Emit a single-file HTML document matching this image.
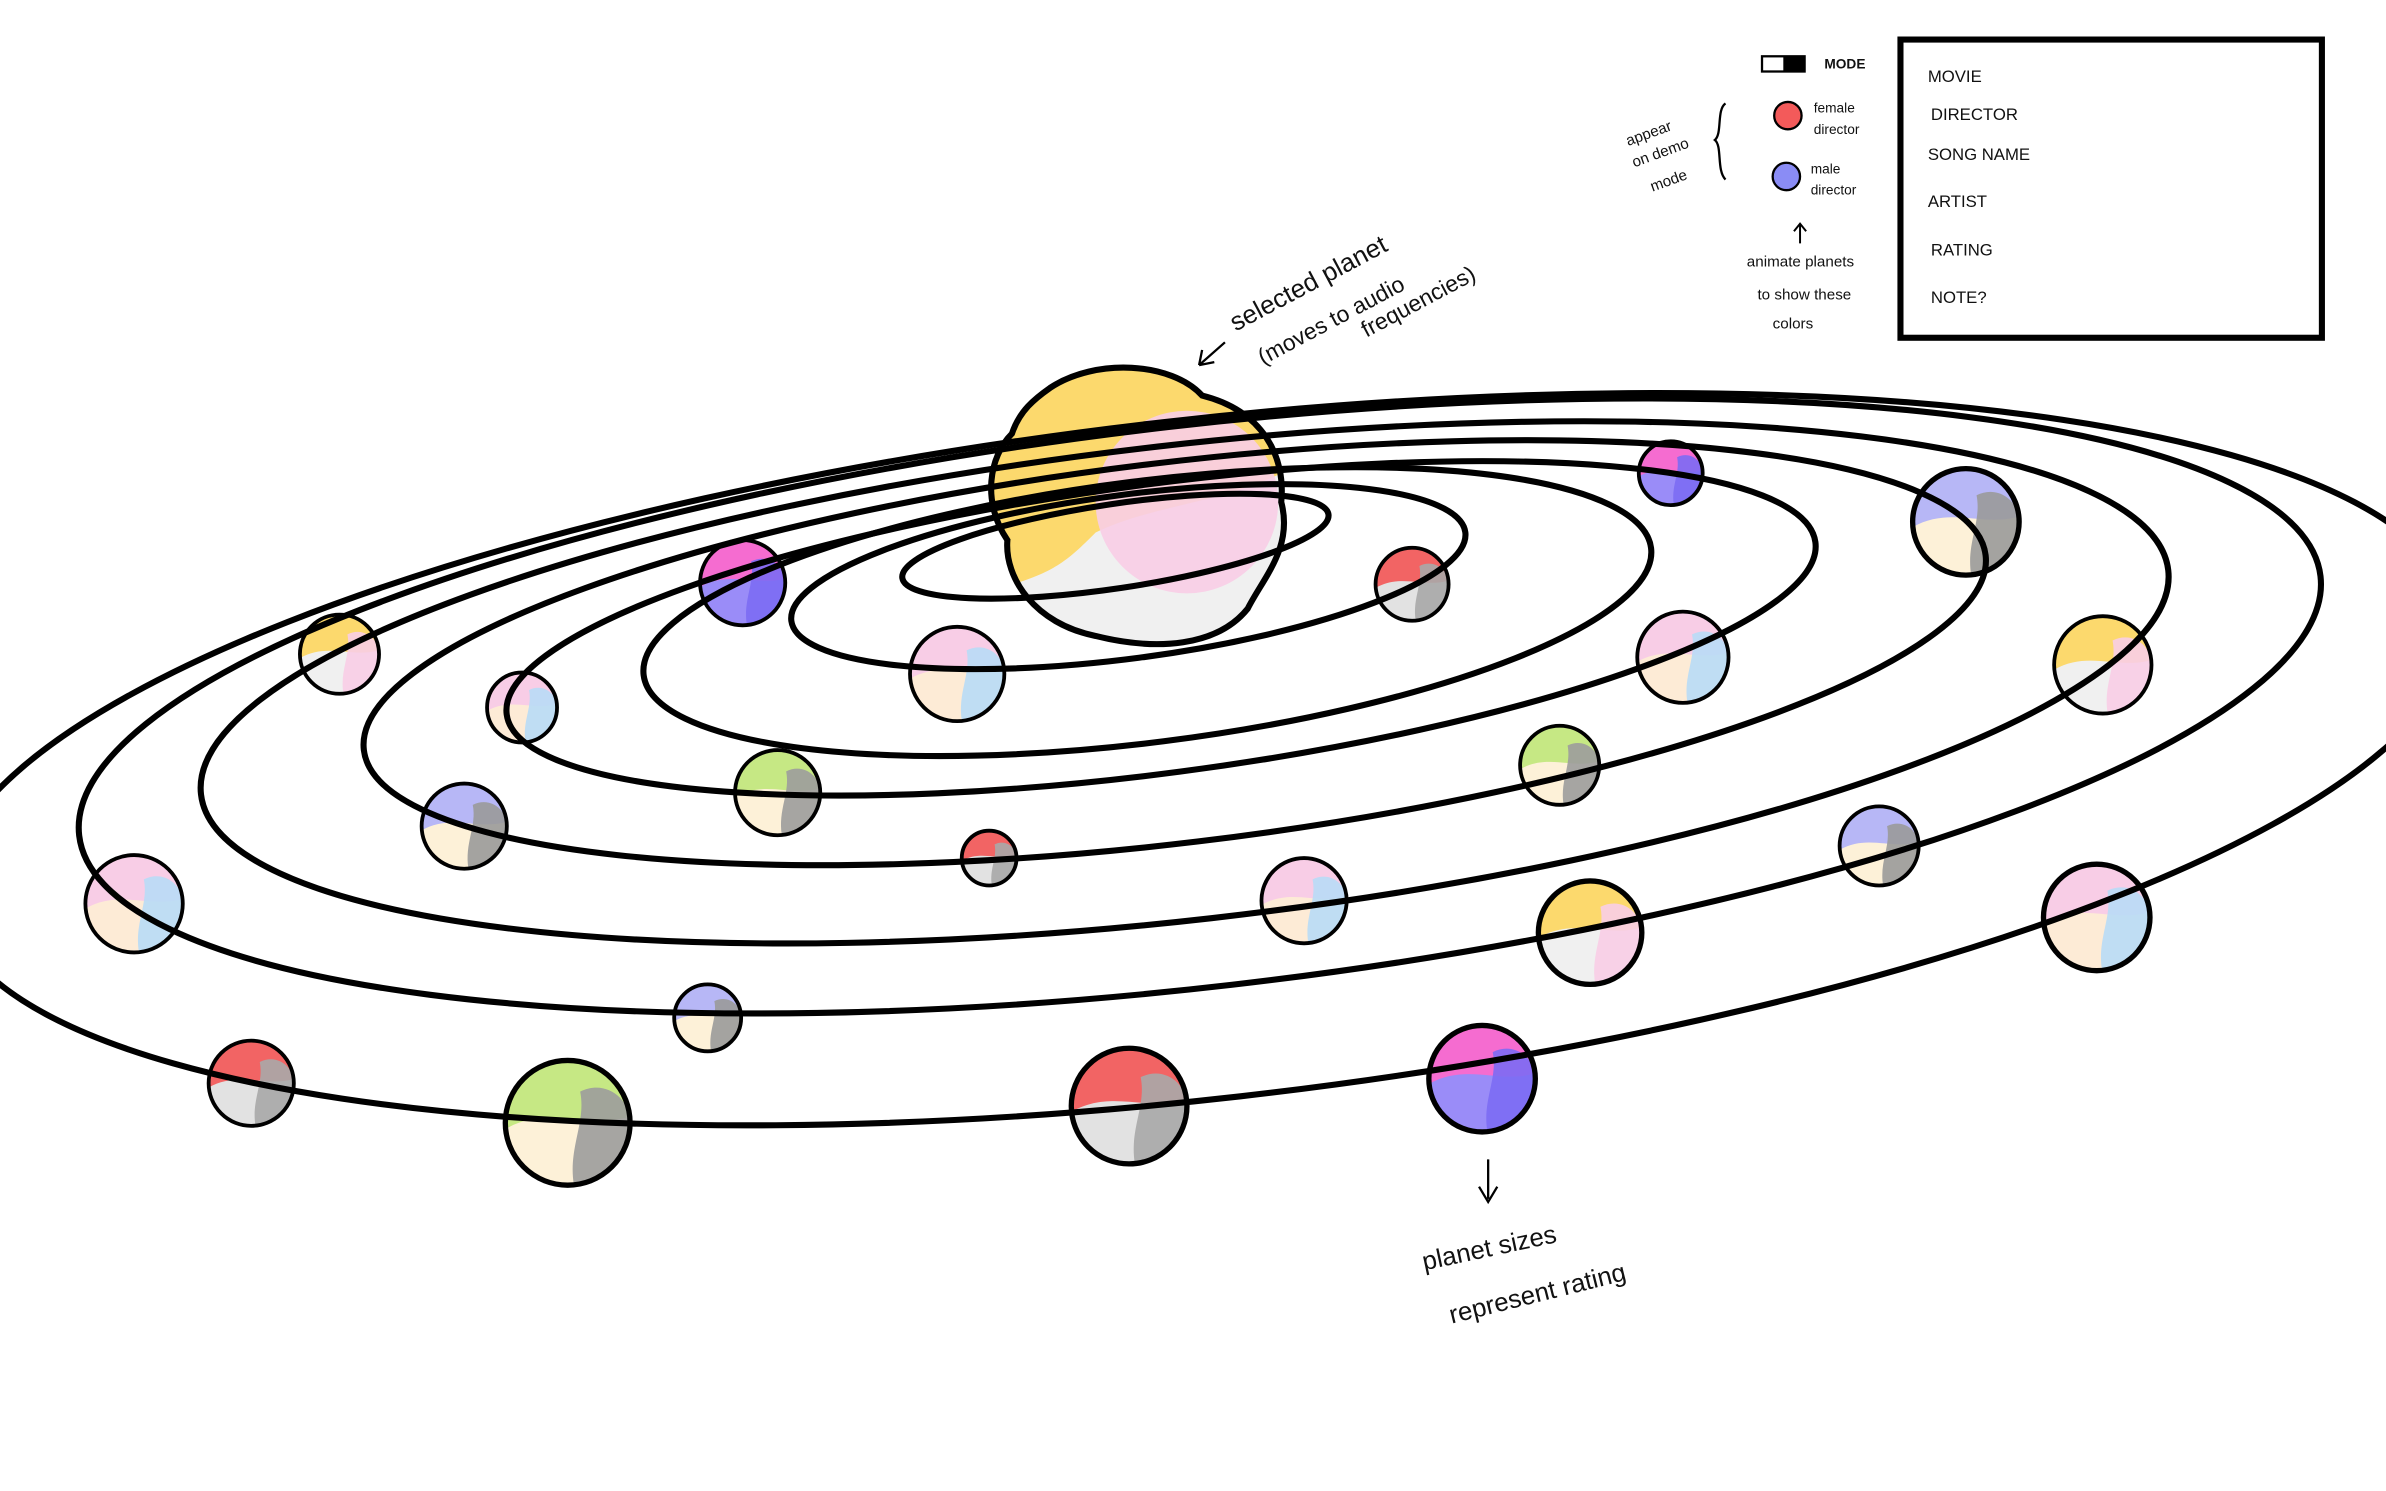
<!DOCTYPE html>
<html><head><meta charset="utf-8"><style>
html,body{margin:0;padding:0;background:#fff;}
svg{display:block;}
text{font-family:"Liberation Sans",sans-serif;fill:#111;}
</style></head><body>
<svg id="chart" width="2386" height="1491" viewBox="0 0 1568 980" xmlns="http://www.w3.org/2000/svg">
<defs><clipPath id="sunclip"><path d="M690,255 C720,235 770,238 790,260 C830,270 845,300 842,330 C850,360 830,380 820,400 C800,425 760,428 720,418 C680,410 660,380 662,355 C645,330 650,300 665,285 C670,270 680,262 690,255Z"/></clipPath></defs>
<g id="sun">
  <g clip-path="url(#sunclip)">
    <rect x="640" y="230" width="220" height="210" fill="#f0f0f0"/>
    <path d="M640,230 H860 V300 C820,330 760,330 720,350 C700,370 690,380 640,390Z" fill="#fcd96d"/>
    <ellipse cx="780" cy="330" rx="60" ry="60" fill="#f8cde6" opacity="0.9"/>
  </g>
</g>
<g id="planet-fills"></g>
<g id="orbits"></g>
<g>
  <path d="M690,255 C720,235 770,238 790,260 C830,270 845,300 842,330 C850,360 830,380 820,400 C800,425 760,428 720,418 C680,410 660,380 662,355 C645,330 650,300 665,285 C670,270 680,262 690,255Z" fill="none" stroke="#000" stroke-width="4"/>
</g>
<g id="planet-outlines"></g>
<g>
  <text x="812" y="218" font-size="17" transform="rotate(-28 812 218)">selected planet</text>
  <text x="830" y="240" font-size="15" transform="rotate(-28 830 240)">(moves to audio</text>
  <text x="898" y="222" font-size="15" transform="rotate(-28 898 222)">frequencies)</text>
  <path d="M805,225 L788,240 M788,240 L790,230 M788,240 L798,238" stroke="#000" stroke-width="1.5" fill="none"/>
</g>
<g>
  <path d="M978,762 L978,788 M972,780 L978,790 L984,780" stroke="#000" stroke-width="1.5" fill="none"/>
  <text x="936" y="835" font-size="17" transform="rotate(-12 936 835)">planet  sizes</text>
  <text x="954" y="870" font-size="17" transform="rotate(-14 954 870)">represent  rating</text>
</g>
<g>
  <g>
    <rect x="1158" y="37" width="28" height="10" fill="#fff" stroke="#000" stroke-width="1.5"/>
    <rect x="1172" y="37" width="14" height="10" fill="#000"/>
    <text x="1199" y="45" font-size="9" font-weight="bold">MODE</text>
  </g>
  <g>
    <circle cx="1175" cy="76" r="9" fill="#f35a5a" stroke="#000" stroke-width="1.5"/>
    <text x="1192" y="74" font-size="9">female</text><text x="1192" y="88" font-size="9">director</text>
  </g>
  <g>
    <circle cx="1174" cy="116" r="9" fill="#8a8cf5" stroke="#000" stroke-width="1.5"/>
    <text x="1190" y="114" font-size="9">male</text><text x="1190" y="128" font-size="9">director</text>
  </g>
  <g>
    <text x="1070" y="96" font-size="10" transform="rotate(-20 1070 96)">appear</text>
    <text x="1074" y="110" font-size="10" transform="rotate(-20 1074 110)">on demo</text>
    <text x="1086" y="126" font-size="10" transform="rotate(-20 1086 126)">mode</text>
    <path d="M1134,68 C1128,72 1132,88 1127,92 C1132,96 1128,112 1134,118" stroke="#000" stroke-width="1.5" fill="none"/>
  </g>
  <g>
    <path d="M1183,160 L1183,148 M1179,152 L1183,147 L1187,152" stroke="#000" stroke-width="1.3" fill="none"/>
    <text x="1148" y="175" font-size="10">animate planets</text>
    <text x="1155" y="197" font-size="10">to  show  these</text>
    <text x="1165" y="216" font-size="10">colors</text>
  </g>
  <g>
    <rect x="1249" y="26" width="277" height="196" fill="#fff" stroke="#000" stroke-width="4"/>
    <text x="1267" y="54" font-size="11">MOVIE</text>
    <text x="1269" y="79" font-size="11">DIRECTOR</text>
    <text x="1267" y="105" font-size="11">SONG NAME</text>
    <text x="1267" y="136" font-size="11">ARTIST</text>
    <text x="1269" y="168" font-size="11">RATING</text>
    <text x="1269" y="199" font-size="11">NOTE?</text>
  </g>
</g>
<script>
var NS="http://www.w3.org/2000/svg";
// orbits: center x, center y, radius x, radius y, tilt (degrees)
var orbitCx=[733,741.5,754,763,772,778.5,788.5,790];
var orbitCy=[359,379,402,413,429,448.5,464,499];
var orbitRx=[141.6,223.4,333.7,433.8,536.8,650.7,741.5,830];
var orbitRy=[27.7,53.8,85.9,95,125,156,184.5,223];
var orbitTilt=[-8.5,-7.5,-7.2,-7.5,-6.85,-6.5,-6.6,-6.5];
// planets
var planetX=[223,343,488,629,928,1098,1292,1106,1382,511,1025,305,650,857,1235,88,1045,1378,465,165,373,742,974];
var planetY=[430,465,383,443,384,311,343,432,437,521,503,543,564,592,556,594,613,603,669,712,738,727,709];
var planetR=[26,23,28,31,24,21,35,30,32,28,26,28,18,28,26,32,34,35,22,28,41,38,35];
var planetType=["yellow","pink","magenta","pink","red","magenta","blue","pink","yellow","green","green","blue","red","pink","blue","pink","yellow","pink","blue","red","green","red","magenta"];
var palette={yellow:["#fcd96d","#f8cde6","#f0f0f0"],pink:["#f8cde6","#b8dcf6","#fdebd6"],magenta:["#f56cd0","#7c6cf3","#9a8cf8"],red:["#f26464","#a8a8a8","#e2e2e2"],blue:["#b7b7f6","#9a9a9a","#fdf1d8"],green:["#c6e884","#9c9c9c","#fdf1d8"]};
var og=document.getElementById('orbits');
orbitCx.forEach(function(cx,i){
  var e=document.createElementNS(NS,'ellipse');
  
  
  e.setAttribute('cx',cx);e.setAttribute('cy',orbitCy[i]);
  e.setAttribute('rx',orbitRx[i]);e.setAttribute('ry',orbitRy[i]);
  e.setAttribute('transform','rotate('+orbitTilt[i]+' '+cx+' '+orbitCy[i]+')');
  e.setAttribute('fill','none');e.setAttribute('stroke','#000');e.setAttribute('stroke-width','4');
  og.appendChild(e);
});
var pg=document.getElementById('planet-fills');
var po=document.getElementById('planet-outlines');
var defs=document.createElementNS(NS,'defs');pg.appendChild(defs);
planetX.forEach(function(x,i){
  var y=planetY[i],r=planetR[i],c=palette[planetType[i]];
  var cp=document.createElementNS(NS,'clipPath');cp.setAttribute('id','pc'+i);
  var cc=document.createElementNS(NS,'circle');cc.setAttribute('cx',x);cc.setAttribute('cy',y);cc.setAttribute('r',r);
  cp.appendChild(cc);defs.appendChild(cp);
  var g=document.createElementNS(NS,'g');
  
  
  var inner=document.createElementNS(NS,'g');inner.setAttribute('clip-path','url(#pc'+i+')');
  var b=document.createElementNS(NS,'rect');b.setAttribute('x',x-r);b.setAttribute('y',y-r);b.setAttribute('width',2*r);b.setAttribute('height',2*r);b.setAttribute('fill',c[2]);inner.appendChild(b);
  var t=document.createElementNS(NS,'path');
  t.setAttribute('d','M'+(x-r)+','+(y-r)+' H'+(x+r)+' V'+(y-0.1*r)+' C'+(x+0.3*r)+','+(y+0.1*r)+' '+(x-0.3*r)+','+(y-0.3*r)+' '+(x-r)+','+(y+0.1*r)+'Z');
  t.setAttribute('fill',c[0]);inner.appendChild(t);
  var s=document.createElementNS(NS,'path');
  s.setAttribute('d','M'+(x+0.2*r)+','+(y-0.5*r)+' C'+(x+0.6*r)+','+(y-0.7*r)+' '+(x+r)+','+(y-0.4*r)+' '+(x+r)+','+(y)+' V'+(y+r)+' H'+(x+0.1*r)+' C'+(x)+','+(y+0.4*r)+' '+(x+0.3*r)+','+(y)+' '+(x+0.2*r)+','+(y-0.5*r)+'Z');
  s.setAttribute('fill',c[1]);s.setAttribute('opacity','0.9');inner.appendChild(s);
  g.appendChild(inner);
  pg.appendChild(g);
  var o=document.createElementNS(NS,'circle');
  
  
  o.setAttribute('cx',x);o.setAttribute('cy',y);o.setAttribute('r',r);
  o.setAttribute('fill','none');o.setAttribute('stroke','#000');o.setAttribute('stroke-width',r>33?3.5:2.5);
  po.appendChild(o);
});
</script>
</svg>
</body></html>
